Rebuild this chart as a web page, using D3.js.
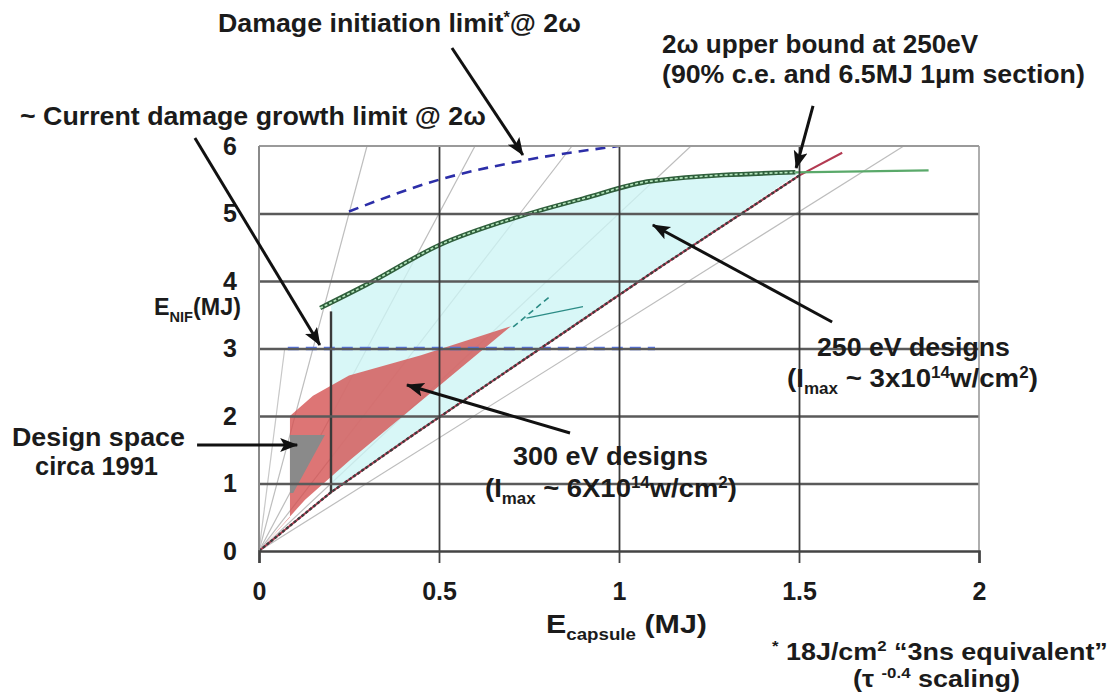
<!DOCTYPE html>
<html>
<head>
<meta charset="utf-8">
<script src="https://cdn.jsdelivr.net/npm/d3@7"></script>
<style>
  html, body { margin: 0; padding: 0; background: #fff; }
  svg { display: block; }
  text { font-family: "Liberation Sans", Arial, sans-serif; font-weight: bold; fill: #1b1b1b; }
</style>
</head>
<body>
<svg id="chart" width="1109" height="700"></svg>
<script>
// ---- axis ticks ----
const xTicks = [0, 0.5, 1, 1.5, 2];
const yTicks = [0, 1, 2, 3, 4, 5, 6];
const xGridTicks = [0.5, 1, 1.5];
const yGridTicks = [1, 2, 3, 4, 5];

// ---- constant-ratio guide rays: E_NIF = k * E_capsule ----
const guideSlopes = [20, 10, 6.9, 5, 3.35];
const steepGuideSlope = [42];
const steepGuideTop = [3];

// ---- 2w upper bound at 250 eV ----
const upperBoundX = [0.17, 0.3, 0.5, 0.72, 0.9, 1.09, 1.49, 1.86];
const upperBoundY = [3.6, 3.95, 4.53, 4.95, 5.22, 5.48, 5.61, 5.64];

// ---- lower edge of the 250 eV design space ----
const lowerBoundX = [0, 0.2, 0.42, 1.11, 1.5];
const lowerBoundY = [0, 0.87, 1.69, 4.19, 5.56];

// ---- red reference line ----
const redLineX = [0, 0.2, 0.42, 1.11, 1.5, 1.62];
const redLineY = [0, 0.87, 1.69, 4.19, 5.56, 5.9];

// ---- damage initiation limit @ 2w ----
const damageInitX = [0.25, 0.5, 0.75, 1.0];
const damageInitY = [5.03, 5.5, 5.8, 6.0];

// ---- current damage growth limit @ 2w ----
const growthLimitX = [0.08, 1.1];
const growthLimitY = [3, 3];
const currentBarX = [0.2, 0.2];
const currentBarY = [0.86, 3.55];

// ---- 250 eV design region ----
const region250X = [0.2, 0.2, 0.3, 0.5, 0.72, 0.9, 1.09, 1.5, 1.11, 0.42, 0.2];
const region250Y = [0.87, 3.63, 3.95, 4.53, 4.95, 5.22, 5.48, 5.6, 4.19, 1.69, 0.87];

// ---- 300 eV design region ----
const region300X = [0.086, 0.15, 0.25, 0.45, 0.70, 0.42, 0.253, 0.128, 0, 0.086];
const region300Y = [2.0, 2.3, 2.6, 2.9, 3.33, 2.09, 1.35, 0.76, 0, 0.5];

// ---- design space circa 1991 ----
const region1991X = [0.086, 0.183, 0.14, 0.095, 0.086];
const region1991Y = [1.72, 1.72, 1.3, 0.86, 0.86];

// ---- short design traces inside the 250 eV region ----
const traceAX = [0.706, 0.808];
const traceAY = [3.32, 3.77];
const traceBX = [0.743, 0.9];
const traceBY = [3.45, 3.62];

const zip = (xs, ys) => xs.map((v, i) => [v, ys[i]]);

const svg = d3.select("#chart");
const x = d3.scaleLinear().domain([0, 2]).range([259, 979]);
const y = d3.scaleLinear().domain([0, 6]).range([551, 146]);
const line = d3.line().x(d => x(d[0])).y(d => y(d[1]));
const smooth = d3.line().x(d => x(d[0])).y(d => y(d[1])).curve(d3.curveMonotoneX);

const defs = svg.append("defs");
defs.append("clipPath").attr("id", "plot")
  .append("rect").attr("x", x(0)).attr("y", y(6)).attr("width", x(2) - x(0)).attr("height", y(0) - y(6));
defs.append("marker").attr("id", "head")
  .attr("markerUnits", "userSpaceOnUse")
  .attr("markerWidth", 20).attr("markerHeight", 16)
  .attr("refX", 17).attr("refY", 7).attr("orient", "auto")
  .append("path").attr("d", "M0,0 L18,7 L0,14 L4,7 Z").attr("fill", "#111");

const plot = svg.append("g").attr("clip-path", "url(#plot)");

// guide rays
plot.selectAll(".ray").data(guideSlopes).enter().append("line")
  .attr("x1", x(0)).attr("y1", y(0))
  .attr("x2", k => x(Math.min(2, 6 / k))).attr("y2", k => y(Math.min(6, 2 * k)))
  .attr("stroke", "#bdbdbd").attr("stroke-width", 1.2);
plot.selectAll(".steep").data(steepGuideSlope).enter().append("line")
  .attr("x1", x(0)).attr("y1", y(0))
  .attr("x2", (k, i) => x(steepGuideTop[i] / k)).attr("y2", (k, i) => y(steepGuideTop[i]))
  .attr("stroke", "#c8c8c8").attr("stroke-width", 1.2);

// grid
const gridH = svg.append("g").attr("transform", `translate(${x(0)},0)`)
  .call(d3.axisLeft(y).tickValues(yGridTicks).tickSize(-(x(2) - x(0))).tickFormat(""));
gridH.select(".domain").remove();
gridH.selectAll("line").attr("stroke", "#5a5a5a").attr("stroke-width", 2.6);
const gridV = svg.append("g").attr("transform", `translate(0,${y(0)})`)
  .call(d3.axisBottom(x).tickValues(xGridTicks).tickSize(-(y(0) - y(6))).tickFormat(""));
gridV.select(".domain").remove();
gridV.selectAll("line").attr("stroke", "#3a3a3a").attr("stroke-width", 1.8);

// design regions
plot.append("path").datum(zip(region250X, region250Y)).attr("d", line)
  .attr("fill", "#cdf5f5").attr("fill-opacity", 0.78);
plot.append("path").datum(zip(region300X, region300Y)).attr("d", line)
  .attr("fill", "#d45252").attr("fill-opacity", 0.8);
plot.append("path").datum(zip(region1991X, region1991Y)).attr("d", line)
  .attr("fill", "#8a8a8a");

// growth limit (y = 3) dashed
plot.append("path").datum(zip(growthLimitX, growthLimitY)).attr("d", line)
  .attr("stroke", "#5676ea").attr("stroke-width", 3.4).attr("stroke-dasharray", "11,7").attr("fill", "none");

// damage initiation limit
plot.append("path").datum(zip(damageInitX, damageInitY)).attr("d", smooth)
  .attr("stroke", "#2c2ea8").attr("stroke-width", 2.6).attr("stroke-dasharray", "10,7").attr("fill", "none");

// red line and dashed lower edge
plot.append("path").datum(zip(redLineX, redLineY)).attr("d", line)
  .attr("stroke", "#b33a52").attr("stroke-width", 2).attr("fill", "none");
plot.append("path").datum(zip(lowerBoundX, lowerBoundY)).attr("d", line)
  .attr("stroke", "#3d3d3d").attr("stroke-width", 2.4).attr("stroke-dasharray", "3,2").attr("fill", "none");

// traces
plot.append("path").datum(zip(traceAX, traceAY)).attr("d", line)
  .attr("stroke", "#2c8c86").attr("stroke-width", 1.6).attr("stroke-dasharray", "6,4").attr("fill", "none");
plot.append("path").datum(zip(traceBX, traceBY)).attr("d", line)
  .attr("stroke", "#2c8c86").attr("stroke-width", 1.4).attr("fill", "none");

// upper bound: double line up to the corner, thin green after
const ub = zip(upperBoundX, upperBoundY);
const ubMain = ub.filter(d => d[0] <= 1.49);
const ubTail = ub.filter(d => d[0] >= 1.49);
plot.append("path").datum(ubMain).attr("d", smooth)
  .attr("stroke", "#2f5f3c").attr("stroke-width", 4.6).attr("fill", "none");
plot.append("path").datum(ubMain).attr("d", smooth)
  .attr("stroke", "#b5e6bd").attr("stroke-width", 1.6).attr("stroke-dasharray", "3,2").attr("fill", "none");
plot.append("path").datum(ubTail).attr("d", line)
  .attr("stroke", "#5aa96a").attr("stroke-width", 2.2).attr("fill", "none");

// current damage growth bar
plot.append("path").datum(zip(currentBarX, currentBarY)).attr("d", line)
  .attr("stroke", "#3a3a3a").attr("stroke-width", 2.4).attr("fill", "none");

// frame
svg.append("line").attr("x1", x(0)).attr("x2", x(2)).attr("y1", y(6)).attr("y2", y(6))
  .attr("stroke", "#9a9a9a").attr("stroke-width", 2);
svg.append("line").attr("x1", x(2)).attr("x2", x(2)).attr("y1", y(6)).attr("y2", y(0))
  .attr("stroke", "#9a9a9a").attr("stroke-width", 1.6);
svg.append("line").attr("x1", x(0)).attr("x2", x(0)).attr("y1", y(6)).attr("y2", y(0))
  .attr("stroke", "#8a8a8a").attr("stroke-width", 2);

// axes
const xAxis = svg.append("g").attr("transform", `translate(0,${y(0)})`)
  .call(d3.axisBottom(x).tickValues(xTicks).tickSize(12).tickPadding(19).tickFormat(d3.format("")));
xAxis.select(".domain").attr("stroke", "#444").attr("stroke-width", 2.6);
xAxis.selectAll("line").attr("stroke", "#444").attr("stroke-width", 1.8);
xAxis.selectAll("text").attr("font-size", 25).attr("font-family", null).attr("fill", null);

const yAxis = svg.append("g").attr("transform", `translate(${x(0)},0)`)
  .call(d3.axisLeft(y).tickValues(yTicks).tickSize(0).tickPadding(22).tickFormat(d3.format("d")));
yAxis.select(".domain").remove();
yAxis.selectAll("text").attr("font-size", 25).attr("font-family", null).attr("fill", null);

// ---- annotations ----
const ann = svg.append("g");
function label(parts, x0, base, width, size) {
  const t = ann.append("text").attr("font-size", size);
  let shift = 0;
  parts.forEach(p => {
    const kind = p[1] || "";
    const target = kind === "sub" ? 7 : kind === "sup" ? -9 : 0;
    t.append("tspan")
      .attr("dy", target - shift)
      .attr("font-size", kind ? Math.round(size * 0.62) : size)
      .text(p[0]);
    shift = target;
  });
  const w = t.node().getBBox().width;
  t.attr("transform", `translate(${x0},${base}) scale(${width / w},1)`);
}
label([["Damage initiation limit"], ["*", "sup"], ["@ 2ω"]], 218, 32, 363, 26);
label([["~ Current damage growth limit @ 2ω"]], 20, 125, 466, 26);
label([["2ω upper bound at 250eV"]], 662, 53, 317, 26);
label([["(90% c.e. and 6.5MJ 1μm section)"]], 662, 83, 423, 26);
label([["E"], ["NIF", "sub"], ["(MJ)"]], 154, 315, 87, 24);
label([["250 eV designs"]], 817, 356, 193, 26);
label([["(I"], ["max", "sub"], [" ~ 3x10"], ["14", "sup"], ["w/cm"], ["2", "sup"], [")"]], 787, 387, 251, 26);
label([["300 eV designs"]], 513, 465, 195, 26);
label([["(I"], ["max", "sub"], [" ~ 6X10"], ["14", "sup"], ["w/cm"], ["2", "sup"], [")"]], 485, 497, 252, 26);
label([["Design space"]], 12, 446, 173, 26);
label([["circa 1991"]], 35, 475, 123, 26);
label([["E"], ["capsule", "sub"], [" (MJ)"]], 546, 633, 161, 26);
label([["*", "sup"], [" 18J/cm"], ["2", "sup"], [" “3ns equivalent”"]], 772, 660, 336, 24);
label([["(τ "], ["-0.4", "sup"], [" scaling)"]], 853, 687, 167, 24);

// arrows (tail -> head, in data units)
const arrows = [
  [[0.536, 7.452], [0.733, 5.867]],
  [[-0.178, 6.12], [0.169, 3.052]],
  [[1.539, 6.593], [1.492, 5.674]],
  [[1.592, 3.393], [1.094, 4.830]],
  [[0.864, 1.748], [0.411, 2.459]],
  [[-0.172, 1.570], [0.106, 1.570]]
];
ann.selectAll(".arrow").data(arrows).enter().append("line")
  .attr("x1", d => x(d[0][0])).attr("y1", d => y(d[0][1]))
  .attr("x2", d => x(d[1][0])).attr("y2", d => y(d[1][1]))
  .attr("stroke", "#111").attr("stroke-width", 3)
  .attr("marker-end", "url(#head)");
</script>
</body>
</html>
